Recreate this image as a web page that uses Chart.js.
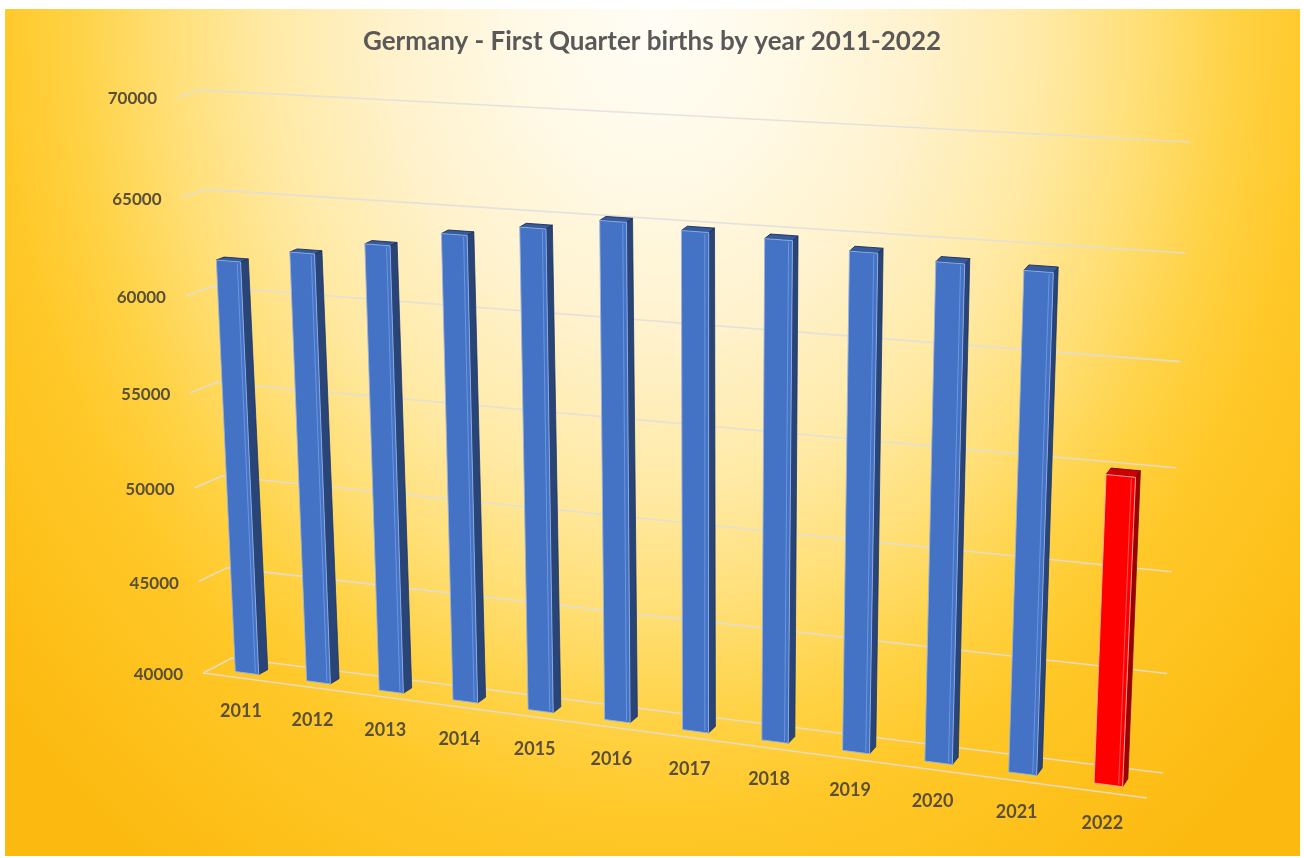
<!DOCTYPE html>
<html>
<head>
<meta charset="utf-8">
<script src="https://cdn.jsdelivr.net/npm/chart.js@4"></script>
<style>
  html, body { margin: 0; padding: 0; background: #ffffff; }
  canvas { display: block; }
</style>
</head>
<body>
<canvas id="c" width="1304" height="858"></canvas>
<script>
// ---------------- data ----------------
const years = ['2011','2012','2013','2014','2015','2016','2017','2018','2019','2020','2021','2022'];
const births = [61800, 62500, 63200, 64000, 64600, 65200, 65000, 64900, 64600, 64400, 64300, 55100];
const yTicks = [40000, 45000, 50000, 55000, 60000, 65000, 70000];
const yTickLabels = ['40000', '45000', '50000', '55000', '60000', '65000', '70000'];
const titleText = 'Germany - First Quarter births by year 2011-2022';
const highlightYear = '2022';

// ---------------- style / perspective geometry ----------------
const W = 1304, H = 858;
const BLUE = '#4472C4', RED = '#FF0000';
const TEXT_COLOR = '#5a5038';
// perspective quads [bottom-left, bottom-right, top-right, top-left] of the chart's unit square
const FRONT_QUAD = [[203, 673], [1147, 798], [1176, 160], [177, 97]];   // front edge of floor / left wall
const BACK_QUAD  = [[232, 658], [1163, 773], [1190, 142], [200, 90]];   // back wall
const BAR_Z = [0.30, 0.62];  // depth range of the columns (0 = front, 1 = back wall)

function homography(q) {
  const [x0, y0] = q[0], [x1, y1] = q[1], [x2, y2] = q[2], [x3, y3] = q[3];
  const sx = x0 - x1 + x2 - x3, sy = y0 - y1 + y2 - y3;
  const dx1 = x1 - x2, dx2 = x3 - x2, dy1 = y1 - y2, dy2 = y3 - y2;
  const den = dx1 * dy2 - dx2 * dy1;
  const g = (sx * dy2 - dx2 * sy) / den;
  const h = (dx1 * sy - sx * dy1) / den;
  const a = x1 - x0 + g * x1, b = x3 - x0 + h * x3, c = x0;
  const d = y1 - y0 + g * y1, e = y3 - y0 + h * y3, f = y0;
  return (u, v) => {
    const w = g * u + h * v + 1;
    return [(a * u + b * v + c) / w, (d * u + e * v + f) / w];
  };
}
function planeAt(z) {
  const q = FRONT_QUAD.map((p, i) => [p[0] + (BACK_QUAD[i][0] - p[0]) * z, p[1] + (BACK_QUAD[i][1] - p[1]) * z]);
  return homography(q);
}
const Pfront = planeAt(0), Pback = planeAt(1);
const PbarF = planeAt(BAR_Z[0]), PbarB = planeAt(BAR_Z[1]);

function shade(hex, k) {
  const n = parseInt(hex.slice(1), 16);
  const r = Math.round(((n >> 16) & 255) * k), g = Math.round(((n >> 8) & 255) * k), b = Math.round((n & 255) * k);
  return `rgb(${r},${g},${b})`;
}
function poly(ctx, pts, fill, stroke, lw) {
  ctx.beginPath();
  ctx.moveTo(pts[0][0], pts[0][1]);
  for (let i = 1; i < pts.length; i++) ctx.lineTo(pts[i][0], pts[i][1]);
  ctx.closePath();
  if (fill) { ctx.fillStyle = fill; ctx.fill(); }
  if (stroke) { ctx.strokeStyle = stroke; ctx.lineWidth = lw || 1; ctx.stroke(); }
}

const persp3d = {
  id: 'persp3d',
  beforeDraw(chart) {
    const ctx = chart.ctx;
    ctx.save();
    ctx.fillStyle = '#ffffff';
    ctx.fillRect(0, 0, W, H);
    ctx.beginPath();
    ctx.rect(5, 9, 1295, 847);
    ctx.clip();
    ctx.translate(655, 20);
    ctx.scale(1, 800 / 660);
    const R = 660 * 1.3;
    const g = ctx.createRadialGradient(0, 0, 0, 0, 0, R);
    g.addColorStop(0, '#FFFDF6');
    g.addColorStop(0.2 / 1.3, '#FFF9E6');
    g.addColorStop(0.4 / 1.3, '#FFF2CC');
    g.addColorStop(0.6 / 1.3, '#FFE9A2');
    g.addColorStop(0.75 / 1.3, '#FFDE72');
    g.addColorStop(0.88 / 1.3, '#FFD244');
    g.addColorStop(1.0 / 1.3, '#FFC828');
    g.addColorStop(1, '#FCBA10');
    ctx.fillStyle = g;
    ctx.fillRect(-720, -60, 1440, 900);
    ctx.restore();
  },
  beforeDatasetsDraw(chart) {
    const ctx = chart.ctx, ca = chart.chartArea, ys = chart.scales.y;
    const wOf = v => (ca.bottom - ys.getPixelForValue(v)) / (ca.bottom - ca.top);
    ctx.save();
    ctx.strokeStyle = 'rgba(222,222,222,0.85)';
    ctx.lineWidth = 1.6;
    ctx.lineJoin = 'round';
    yTicks.forEach(v => {
      const w = wOf(v);
      const a = Pfront(0, w), b = Pback(0, w), c = Pback(1, w);
      ctx.beginPath();
      ctx.moveTo(a[0], a[1]); ctx.lineTo(b[0], b[1]); ctx.lineTo(c[0], c[1]);
      ctx.stroke();
    });
    // floor front edge
    const f0 = Pfront(0, 0), f1 = Pfront(1, 0);
    ctx.beginPath(); ctx.moveTo(f0[0], f0[1]); ctx.lineTo(f1[0], f1[1]); ctx.stroke();
    // value labels
    ctx.fillStyle = TEXT_COLOR;
    ctx.font = 'bold 17px Lato';
    ctx.textAlign = 'right';
    ctx.textBaseline = 'middle';
    yTicks.forEach((v, i) => {
      const p = Pfront(0, wOf(v));
      ctx.fillText(yTickLabels[i], p[0] - 20, p[1] + 2);
    });
    ctx.restore();
  },
  beforeDatasetDraw() { return false; },
  afterDatasetsDraw(chart) {
    const ctx = chart.ctx, ca = chart.chartArea;
    const meta = chart.getDatasetMeta(0);
    const cw = ca.right - ca.left, chh = ca.bottom - ca.top;
    ctx.save();
    ctx.lineJoin = 'round';
    meta.data.forEach((el, i) => {
      const u1 = (el.x - el.width / 2 - ca.left) / cw;
      const u2 = (el.x + el.width / 2 - ca.left) / cw;
      const w0 = Math.max(0, (ca.bottom - el.base) / chh);
      const w1 = Math.min(1, (ca.bottom - el.y) / chh);
      const col = el.options.backgroundColor;
      const isRed = col.toUpperCase() === RED;
      const side = shade(col, isRed ? 0.62 : 0.6);
      const top = shade(col, 0.8);
      const edge = isRed ? 'rgba(120,0,0,0.9)' : 'rgba(25,45,90,0.9)';
      // right side face
      poly(ctx, [PbarF(u2, w0), PbarB(u2, w0), PbarB(u2, w1), PbarF(u2, w1)], side, edge, 0.8);
      // top face
      poly(ctx, [PbarF(u1, w1), PbarF(u2, w1), PbarB(u2, w1), PbarB(u1, w1)], top, edge, 1);
      // front face
      poly(ctx, [PbarF(u1, w0), PbarF(u2, w0), PbarF(u2, w1), PbarF(u1, w1)], col,
           isRed ? 'rgba(255,170,170,0.9)' : 'rgba(150,180,235,0.9)', 1);
      // bevel highlight
      const uh = u2 - (u2 - u1) * 0.14;
      const h0 = PbarF(uh, w0 + 0.003), h1 = PbarF(uh, w1 - 0.003);
      ctx.beginPath(); ctx.moveTo(h0[0], h0[1]); ctx.lineTo(h1[0], h1[1]);
      ctx.strokeStyle = isRed ? 'rgba(255,120,120,0.7)' : 'rgba(120,160,230,0.75)';
      ctx.lineWidth = 1; ctx.stroke();
    });
    // category labels
    ctx.fillStyle = TEXT_COLOR;
    ctx.font = 'bold 18px Lato';
    ctx.textAlign = 'center';
    ctx.textBaseline = 'middle';
    meta.data.forEach((el, i) => {
      const uc = (el.x - ca.left) / cw;
      const p = PbarF(uc, 0);
      ctx.fillText(chart.data.labels[i], p[0] - 6, p[1] + 38);
    });
    ctx.restore();
  }
};

new Chart(document.getElementById('c'), {
  type: 'bar',
  data: {
    labels: years,
    datasets: [{
      label: 'First Quarter births',
      data: births,
      backgroundColor: years.map(y => y === highlightYear ? RED : BLUE),
      borderWidth: 0,
      barPercentage: 0.33,
      categoryPercentage: 1.0
    }]
  },
  options: {
    responsive: false,
    animation: false,
    devicePixelRatio: 1,
    layout: { padding: 0 },
    scales: {
      x: { display: false },
      y: { display: false, min: 40000, max: 70000, ticks: { stepSize: 5000 } }
    },
    plugins: {
      legend: { display: false },
      tooltip: { enabled: false },
      title: {
        display: true,
        text: titleText,
        color: '#595959',
        font: { family: 'Lato', size: 26, weight: 'bold' },
        padding: { top: 26, bottom: 10 }
      }
    }
  },
  plugins: [persp3d]
});
</script>
</body>
</html>
